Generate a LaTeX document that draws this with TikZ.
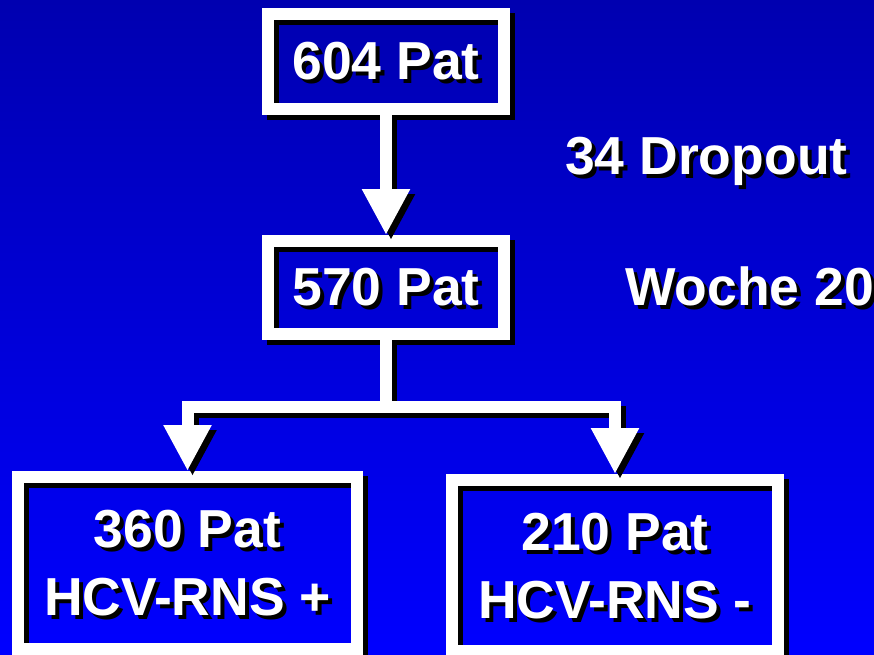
\documentclass[tikz,border=0pt]{standalone}
\usepackage{fontspec}
\setmainfont{Liberation Sans}
\usetikzlibrary{arrows.meta}
\definecolor{bgtop}{RGB}{0,0,176}
\definecolor{bgbot}{RGB}{0,0,255}
\newcommand{\shtxt}[1]{\rlap{\kern4pt\smash{\raisebox{-4pt}{\color{black}#1}}}#1}
\begin{document}
\begin{tikzpicture}[x=1pt, y=-1pt,
  patbox/.style={draw=white, line width=12pt, rectangle, inner sep=0pt,
                 preaction={draw=black, line width=12pt,
                            transform canvas={shift={(5pt,-5pt)}}},
                 text=white, align=center,
                 font=\fontsize{53.5}{68}\selectfont\bfseries},
  lbltxt/.style={anchor=base west, inner sep=0pt, text=white,
                 font=\fontsize{53.5}{68}\selectfont\bfseries},
  conn/.style={draw=white, line width=12pt,
               -{Triangle[width=45pt, length=46pt]}},
  connsh/.style={conn, draw=black, transform canvas={shift={(5pt,-5pt)}}},
]
\useasboundingbox (0,0) rectangle (874,654);
\clip (0,0) rectangle (874,654);
\fill[top color=bgtop, bottom color=bgbot] (0,0) rectangle (874,654);
\node[patbox, minimum width=236pt, minimum height=95pt] (p604) at (386,61.5) {\shtxt{604 Pat}};
\node[patbox, minimum width=236pt, minimum height=93pt] (p570) at (386,287.5) {\shtxt{570 Pat}};
\node[patbox, minimum width=339pt, minimum height=172pt, text depth=-8pt] (pplus) at (187.5,563) {\shtxt{360 Pat}\\\shtxt{HCV-RNS +}};
\node[patbox, minimum width=326pt, minimum height=171pt, text depth=-8pt] (pminus) at (615,565.5) {\shtxt{210 Pat}\\\shtxt{HCV-RNS -}};
\node[lbltxt] (drop) at (565,174) {\shtxt{34 Dropout}};
\node[lbltxt] (week) at (625,305) {\shtxt{Woche 20}};
\coordinate (fork) at (386,407);
\draw[connsh] (p604.south) -- (p570.north);
\draw[connsh] (p570.south) -- (fork) -| (pplus.north);
\draw[connsh] (fork) -| (pminus.north);
\draw[conn] (p604.south) -- (p570.north);
\draw[conn] (p570.south) -- (fork) -| (pplus.north);
\draw[conn] (fork) -| (pminus.north);
\end{tikzpicture}
\end{document}
